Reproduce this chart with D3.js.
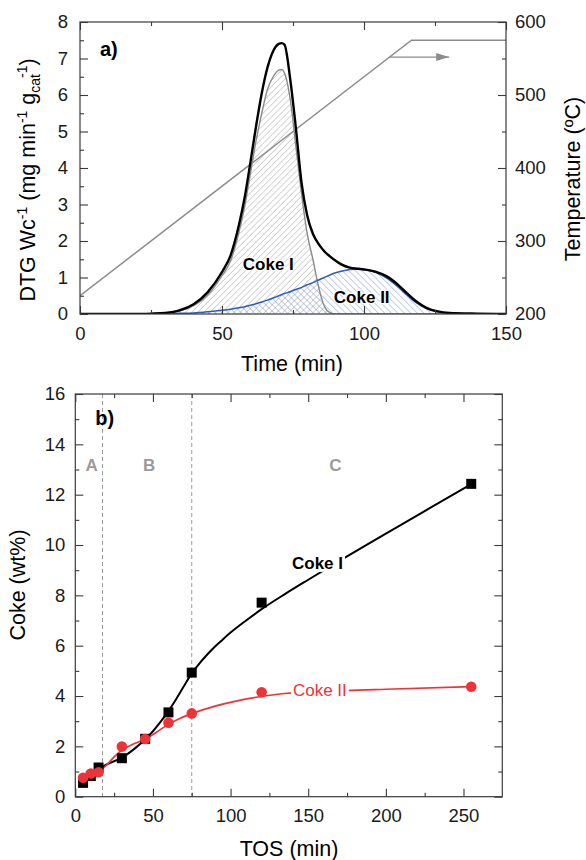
<!DOCTYPE html>
<html><head><meta charset="utf-8">
<script src="https://cdn.jsdelivr.net/npm/d3@7"></script>
<style>
body{margin:0;background:#fff}
svg{font-family:"Liberation Sans",Arial,Helvetica,sans-serif}
</style>
</head><body>
<svg id="c" width="586" height="860"></svg>
<script>
// ---------- Panel a) DTG data ----------
const dtgTime  = [0,10,20,25,30,35,40,45,50,53,56,58,60,62,64,66,68,70,71,72,74,76,78,80,82,84,86,88,90,92,95,98,100,104,108,112,115,118,122,126,130,140,150];
const dtgTotal = [0,0,0,0.01,0.03,0.1,0.27,0.6,1.15,1.6,2.45,3.2,4.15,5.15,6.05,6.75,7.2,7.4,7.42,7.38,6.45,5.1,3.6,2.7,2.2,1.92,1.72,1.58,1.46,1.36,1.27,1.24,1.22,1.16,1.03,0.8,0.58,0.37,0.17,0.07,0.03,0.01,0];
const dtgCokeI = [0,0,0,0.005,0.02,0.08,0.23,0.52,1.05,1.45,2.25,2.95,3.85,4.75,5.5,6.15,6.5,6.68,6.7,6.6,5.9,4.6,3.3,2.2,1.5,0.75,0.22,0.04,0,0,0,0,0,0,0,0,0,0,0,0,0,0,0];
const dtgCokeII= [0,0,0,0.005,0.01,0.02,0.03,0.06,0.1,0.13,0.17,0.2,0.24,0.28,0.33,0.38,0.44,0.5,0.53,0.56,0.61,0.67,0.73,0.8,0.86,0.93,1.0,1.07,1.13,1.17,1.22,1.23,1.22,1.14,0.98,0.74,0.53,0.33,0.15,0.06,0.02,0.005,0];
const tempTime = [0,116.7,150];
const tempVal  = [225,575,575];
const arrowTime = [109,130];
const arrowTemp = 552;
const xTicksA = [0,50,100,150], xMinorA = [25,75,125];
const yTicksA = [0,1,2,3,4,5,6,7,8], yMinorA = [0.5,1.5,2.5,3.5,4.5,5.5,6.5,7.5];
const tTicksA = [200,300,400,500,600], tMinorA = [250,350,450,550];

// ---------- Panel b) coke data ----------
const tos      = [5,10,15,30,45,60,75,120,255];
const cokeI    = [0.55,0.82,1.16,1.53,2.3,3.35,4.93,7.71,12.43];
const cokeII   = [0.75,0.92,0.97,1.99,2.29,2.94,3.31,4.15,4.37];
const fitITos  = [5,10,15,20,30,40,45,50,55,60,65,70,75,80,85,90,95,100,110,120,135,150,175,200,225,255];
const fitIVal  = [0.7,0.9,1.07,1.27,1.55,2.0,2.27,2.6,2.98,3.4,3.88,4.4,4.9,5.3,5.65,5.97,6.25,6.52,7.0,7.45,8.05,8.62,9.55,10.45,11.35,12.42];
const fitIITos = [5,10,15,20,25,30,37,45,52,60,67,75,90,105,120,135,160,200,255];
const fitIIVal = [0.74,0.87,0.98,1.25,1.58,1.85,2.08,2.29,2.55,2.88,3.1,3.3,3.6,3.82,3.98,4.1,4.18,4.27,4.37];
const zoneLines = [17.5,75];
const zoneLabels = ["A","B","C"], zoneX = [10.5,47.5,167.5], zoneY = 12.95;
const xTicksB = [0,50,100,150,200,250], xMinorB = [25,75,125,175,225];
const yTicksB = [0,2,4,6,8,10,12,14,16], yMinorB = [1,3,5,7,9,11,13,15];

const svg = d3.select("#c");
const FS = 18.5;
const TS = 21.5;
const frameCol = "#3a3a3a";

// patterns
const defs = svg.append("defs");
function hatch(id, col, ang, sp, w){
  const p = defs.append("pattern").attr("id",id).attr("patternUnits","userSpaceOnUse")
    .attr("width",sp).attr("height",sp).attr("patternTransform",`rotate(${ang})`);
  p.append("line").attr("x1",0).attr("y1",-1).attr("x2",0).attr("y2",sp+1)
    .attr("stroke",col).attr("stroke-width",w);
}
hatch("hI","#9c9c9c",45,4.3,0.85);
hatch("hII","#6b8bd4",-45,4.6,0.85);
defs.append("marker").attr("id","arr").attr("viewBox","0 0 13 8").attr("refX",13).attr("refY",4)
  .attr("markerWidth",13).attr("markerHeight",8).attr("markerUnits","userSpaceOnUse").attr("orient","auto")
  .append("path").attr("d","M0,0L13,4L0,8Z").attr("fill","#8c8c8c");

function axes(g, x, y, W, H, xT, xM, yT, yM, ypad, xpad){
  const mk = (ax) => { ax.select(".domain").remove(); ax.selectAll("line").attr("stroke",frameCol).attr("stroke-width",1.1);
    ax.selectAll("text").attr("font-size",FS).attr("fill","#1a1a1a"); return ax; };
  mk(g.append("g").attr("transform",`translate(0,${H})`).call(d3.axisBottom(x).tickValues(xT).tickSize(-8).tickPadding(xpad).tickFormat(d3.format("d"))));
  mk(g.append("g").attr("transform",`translate(0,${H})`).call(d3.axisBottom(x).tickValues(xM).tickSize(-4).tickFormat("")));
  mk(g.append("g").call(d3.axisTop(x).tickValues(xT).tickSize(-8).tickFormat("")));
  mk(g.append("g").call(d3.axisTop(x).tickValues(xM).tickSize(-4).tickFormat("")));
  mk(g.append("g").call(d3.axisLeft(y).tickValues(yT).tickSize(-8).tickPadding(ypad).tickFormat(d3.format("d"))));
  mk(g.append("g").call(d3.axisLeft(y).tickValues(yM).tickSize(-4).tickFormat("")));
}

// ================= Panel a =================
{
  const L=80,T=22,W=426,H=292;
  const g = svg.append("g").attr("transform",`translate(${L},${T})`);
  const x = d3.scaleLinear().domain([0,150]).range([0,W]);
  const y = d3.scaleLinear().domain([0,8]).range([H,0]);
  const yt = d3.scaleLinear().domain([200,600]).range([H,0]);
  const cl = defs.append("clipPath").attr("id","clipA"); cl.append("rect").attr("width",W).attr("height",H);
  const pg = g.append("g").attr("clip-path","url(#clipA)");
  const idx = d3.range(dtgTime.length);
  const area = (arr) => d3.area().x(i=>x(dtgTime[i])).y0(y(0)).y1(i=>y(arr[i])).curve(d3.curveMonotoneX)(idx);
  const line = (arr) => d3.line().x(i=>x(dtgTime[i])).y(i=>y(arr[i])).curve(d3.curveMonotoneX)(idx);
  pg.append("path").attr("d",area(dtgCokeI)).attr("fill","url(#hI)");
  pg.append("path").attr("d",area(dtgCokeII)).attr("fill","url(#hII)");
  // temperature
  pg.append("path").attr("d",d3.line().x((d,i)=>x(tempTime[i])).y(d=>yt(d))(tempVal))
    .attr("fill","none").attr("stroke","#8c8c8c").attr("stroke-width",1.5);
  pg.append("line").attr("x1",x(arrowTime[0])).attr("x2",x(arrowTime[1])).attr("y1",yt(arrowTemp)).attr("y2",yt(arrowTemp))
    .attr("stroke","#8c8c8c").attr("stroke-width",1.3).attr("marker-end","url(#arr)");
  pg.append("path").attr("d",line(dtgCokeI)).attr("fill","none").attr("stroke","#8a8a8a").attr("stroke-width",1.4);
  pg.append("path").attr("d",line(dtgCokeII)).attr("fill","none").attr("stroke","#2c5cbc").attr("stroke-width",1.5);
  pg.append("path").attr("d",line(dtgTotal)).attr("fill","none").attr("stroke","#000").attr("stroke-width",2.4);

  g.append("rect").attr("width",W).attr("height",H).attr("fill","none").attr("stroke",frameCol).attr("stroke-width",1.2);
  axes(g,x,y,W,H,xTicksA,xMinorA,yTicksA,yMinorA,12,13);
  const r1 = g.append("g").attr("transform",`translate(${W},0)`).call(d3.axisRight(yt).tickValues(tTicksA).tickSize(-8).tickPadding(9));
  r1.select(".domain").remove(); r1.selectAll("line").attr("stroke",frameCol).attr("stroke-width",1.1);
  r1.selectAll("text").attr("font-size",FS).attr("fill","#1a1a1a");
  const r2 = g.append("g").attr("transform",`translate(${W},0)`).call(d3.axisRight(yt).tickValues(tMinorA).tickSize(-4).tickFormat(""));
  r2.select(".domain").remove(); r2.selectAll("line").attr("stroke",frameCol).attr("stroke-width",1.1);

  g.append("text").attr("x",x(7)).attr("y",y(7.07)).attr("font-size",20).attr("font-weight","bold").text("a)");
  g.append("text").attr("x",x(66.3)).attr("y",y(1.2)).attr("text-anchor","middle").attr("font-size",17).attr("font-weight","bold")
    .attr("stroke","#fff").attr("stroke-width",2.5).attr("paint-order","stroke").text("Coke I");
  g.append("text").attr("x",x(99.2)).attr("y",y(0.3)).attr("text-anchor","middle").attr("font-size",17).attr("font-weight","bold")
    .attr("stroke","#fff").attr("stroke-width",2.5).attr("paint-order","stroke").text("Coke II");

  svg.append("text").attr("x",292).attr("y",371).attr("text-anchor","middle").attr("font-size",TS).text("Time (min)");
  const lt = svg.append("text").attr("transform","translate(35,180) rotate(-90)").attr("text-anchor","middle").attr("font-size",TS);
  lt.append("tspan").text("DTG Wc");
  lt.append("tspan").attr("font-size",14).attr("dy",-8).text("-1");
  lt.append("tspan").attr("dy",8).text(" (mg min");
  lt.append("tspan").attr("font-size",14).attr("dy",-8).text("-1");
  lt.append("tspan").attr("dy",8).text(" g");
  lt.append("tspan").attr("font-size",14).attr("dy",5).text("cat");
  lt.append("tspan").attr("font-size",14).attr("dy",-13).attr("dx",-4).text("-1");
  lt.append("tspan").attr("dy",8).text(")");
  svg.append("text").attr("transform","translate(580,179) rotate(-90)").attr("text-anchor","middle").attr("font-size",TS).text("Temperature (ºC)");
}

// ================= Panel b =================
{
  const L=75.3,T=394,W=427,H=402.7;
  const g = svg.append("g").attr("transform",`translate(${L},${T})`);
  const x = d3.scaleLinear().domain([0,275]).range([0,W]);
  const y = d3.scaleLinear().domain([0,16]).range([H,0]);
  g.selectAll("line.zone").data(zoneLines).enter().append("line").attr("class","zone")
    .attr("x1",d=>x(d)).attr("x2",d=>x(d)).attr("y1",0).attr("y2",H)
    .attr("stroke","#9a9a9a").attr("stroke-width",1).attr("stroke-dasharray","4,3");
  g.selectAll("text.zone").data(zoneLabels).enter().append("text").attr("class","zone")
    .attr("x",(d,i)=>x(zoneX[i])).attr("y",y(zoneY)).attr("text-anchor","middle")
    .attr("font-size",17).attr("font-weight","bold").attr("fill","#9b9b9b").text(d=>d);

  const ln = (xs,vs) => d3.line().x((d,i)=>x(xs[i])).y(d=>y(d)).curve(d3.curveMonotoneX)(vs);
  g.append("path").attr("d",ln(fitITos,fitIVal)).attr("fill","none").attr("stroke","#000").attr("stroke-width",2);
  g.append("path").attr("d",ln(fitIITos,fitIIVal)).attr("fill","none").attr("stroke","#ee3338").attr("stroke-width",1.7);

  // labels with white boxes
  function lab(txt, xv, yv, col, wt){
    const t = g.append("text").attr("x",x(xv)).attr("y",y(yv)).attr("text-anchor","middle")
      .attr("font-size",17).attr("font-weight",wt).attr("fill",col).text(txt);
    const b = t.node().getBBox();
    g.insert("rect", function(){return t.node();}).attr("x",b.x-2).attr("y",b.y+2).attr("width",b.width+4).attr("height",b.height-3).attr("fill","#fff");
  }
  lab("Coke I",156,9.05,"#000","bold");
  lab("Coke II",157.5,4.0,"#ee3338","normal");

  g.selectAll("rect.sq").data(tos).enter().append("rect").attr("class","sq")
    .attr("x",d=>x(d)-5).attr("y",(d,i)=>y(cokeI[i])-5).attr("width",10).attr("height",10).attr("fill","#000");
  g.selectAll("circle.ci").data(tos).enter().append("circle").attr("class","ci")
    .attr("cx",d=>x(d)).attr("cy",(d,i)=>y(cokeII[i])).attr("r",5.3).attr("fill","#ee3338");

  g.append("rect").attr("width",W).attr("height",H).attr("fill","none").attr("stroke",frameCol).attr("stroke-width",1.2);
  axes(g,x,y,W,H,xTicksB,xMinorB,yTicksB,yMinorB,10,12);
  const r1 = g.append("g").attr("transform",`translate(${W},0)`).call(d3.axisRight(y).tickValues(yTicksB).tickSize(-8).tickFormat(""));
  const r2 = g.append("g").attr("transform",`translate(${W},0)`).call(d3.axisRight(y).tickValues(yMinorB).tickSize(-4).tickFormat(""));
  [r1,r2].forEach(r=>{r.select(".domain").remove(); r.selectAll("line").attr("stroke",frameCol).attr("stroke-width",1.1);});

  g.append("text").attr("x",x(12.8)).attr("y",y(14.75)).attr("font-size",20).attr("font-weight","bold").text("b)");
  svg.append("text").attr("x",289).attr("y",856).attr("text-anchor","middle").attr("font-size",TS).text("TOS (min)");
  svg.append("text").attr("transform","translate(25,585) rotate(-90)").attr("text-anchor","middle").attr("font-size",TS).text("Coke (wt%)");
}
</script>
</body></html>
